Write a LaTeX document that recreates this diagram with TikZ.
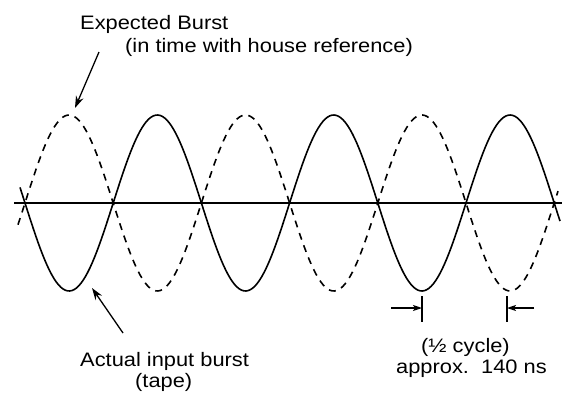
\documentclass[tikz,border=0pt]{standalone}
\usepackage{fontspec}
\setmainfont{Liberation Sans}[FakeStretch=1.12]
\usetikzlibrary{arrows.meta}

\begin{document}
\begin{tikzpicture}[x=1pt, y=-1pt,
  every node/.style={font=\fontsize{19.5}{24}\selectfont, inner sep=0pt, anchor=base west},
  wave/.style={line width=1.6pt, line join=round},
  dashwave/.style={wave, dash pattern=on 7pt off 6pt},
  pointer/.style={line width=1.3pt, -{Stealth[length=12pt, width=8pt, inset=4pt]}},
  dimpointer/.style={line width=1.3pt, -{Stealth[length=9pt, width=6pt, inset=2pt]}}]
	\useasboundingbox (0,0) rectangle (562,394);
	% axis
	\draw[line width=2pt] (14,203) -- (562,203);
	% actual (tape) burst and expected burst, half period 88.2
	\draw[wave] plot[domain=20:560, samples=240] (\x, {203+88*sin((\x-25)*2.0408)});
	\draw[dashwave] plot[domain=18:558, samples=240] (\x, {203-88*sin((\x-25)*2.0408)});
	% labels
	\node (expected) at (80,29) {Expected Burst};
	\node (house) at (125,52) {(in time with house reference)};
	\node (actual) at (80,366) {Actual input burst};
	\node (tape) at (135,387) {(tape)};
	\node (half) at (421,352) {(½ cycle)};
	\node (approx) at (396,373) {approx.\ \ 140 ns};
	% pointers
	\coordinate (expTail) at (99,52);
	\coordinate (expHead) at (75,108);
	\draw[pointer] (expTail) -- (expHead);
	\coordinate (actTail) at (123,333);
	\coordinate (actHead) at (92,288);
	\draw[pointer] (actTail) -- (actHead);
	% half cycle marks
	\coordinate (tickLtop) at (422,296);
	\coordinate (tickLbot) at (422,322);
	\coordinate (tickRtop) at (507,296);
	\coordinate (tickRbot) at (507,322);
	\draw[line width=1.3pt] (tickLtop) -- (tickLbot);
	\draw[line width=1.3pt] (tickRtop) -- (tickRbot);
	\coordinate (fromL) at (391,308);
	\coordinate (toL) at (422,308);
	\coordinate (fromR) at (534,308);
	\coordinate (toR) at (507,308);
	\draw[dimpointer] (fromL) -- (toL);
	\draw[dimpointer] (fromR) -- (toR);
\end{tikzpicture}
\end{document}
